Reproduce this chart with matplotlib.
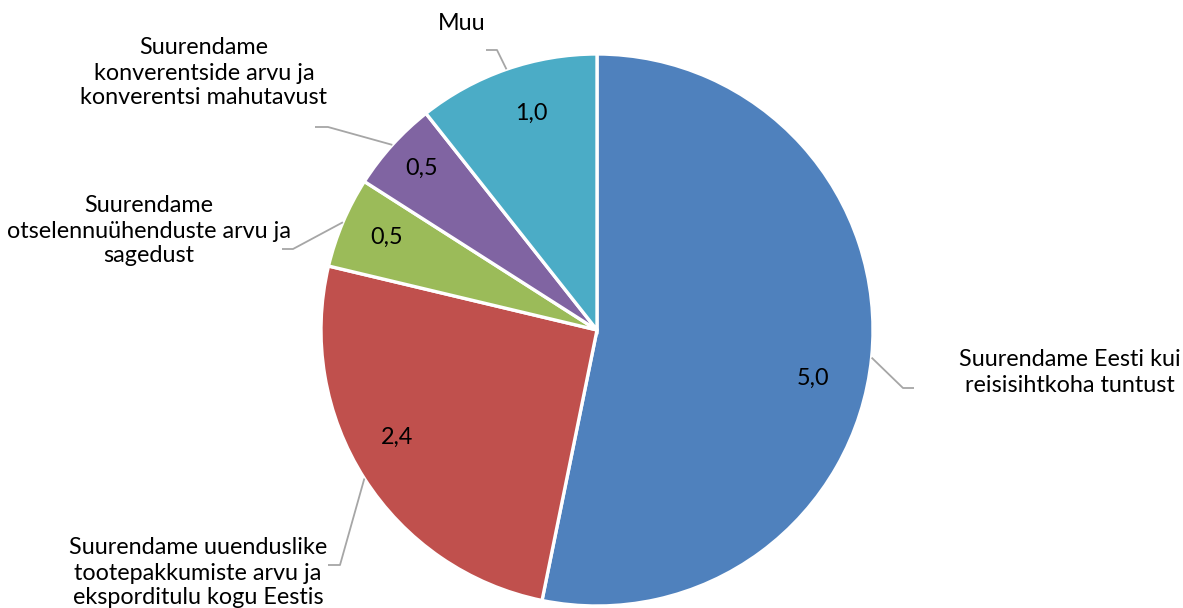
import numpy as np
import matplotlib
matplotlib.use("Agg")
import matplotlib.pyplot as plt

categories = [
    "Suurendame Eesti kui\nreisisihtkoha tuntust",
    "Suurendame uuenduslike\ntootepakkumiste arvu ja\neksporditulu kogu Eestis",
    "Suurendame\notselennuühenduste arvu ja\nsagedust",
    "Suurendame\nkonverentside arvu ja\nkonverentsi mahutavust",
    "Muu",
]
values = [5.0, 2.4, 0.5, 0.5, 1.0]
value_labels = ["5,0", "2,4", "0,5", "0,5", "1,0"]
colors = ["#4f81bd", "#c0504d", "#9bbb59", "#8064a2", "#4bacc6"]

W, H = 1183, 608
fig = plt.figure(figsize=(W / 100, H / 100), dpi=100)
ax = fig.add_axes([0, 0, 1, 1])

cx, cy, R = 597, H - 330, 276
font = "Lato"
fs = 16.8

wedges, _ = ax.pie(values, colors=colors, startangle=90, counterclock=False,
                   center=(cx, cy), radius=R, frame=True,
                   wedgeprops=dict(edgecolor="white", linewidth=2.4))
ax.set_xlim(0, W)
ax.set_ylim(0, H)
ax.set_aspect("equal")
ax.axis("off")

# value label positions (pixel coords, y from top)
val_pos = [(813, 378), (397, 437), (387, 237), (422, 168), (531, 113)]
for (x, y), t in zip(val_pos, value_labels):
    ax.text(x, H - y, t, ha="center", va="center", fontsize=fs, family=font, color="black")

# category label centres: x and first-line y (pixel coords, y from top)
lab_x = [1070, 198, 149, 204, 462]
lab_y0 = [360, 548, 206, 48, 24]
line_step = 25
elbows = [(903, 388), (340, 565), (293, 249), (328, 127), (497, 50)]
ends = [(914, 388), (328, 565), (282, 249), (315, 127), (486, 50)]

for w, t, lx, ly0, (ex, ey), (nx, ny) in zip(wedges, categories, lab_x, lab_y0, elbows, ends):
    ang = np.deg2rad((w.theta1 + w.theta2) / 2)
    sx, sy = cx + R * np.cos(ang), cy + R * np.sin(ang)
    ax.plot([sx, ex, nx], [sy, H - ey, H - ny], color="#a6a6a6", lw=1.3, solid_capstyle="butt")
    for i, line in enumerate(t.split("\n")):
        ax.text(lx, H - (ly0 + i * line_step), line, ha="center", va="center",
                fontsize=fs, family=font, color="black")

fig.savefig("out.png", dpi=100)
